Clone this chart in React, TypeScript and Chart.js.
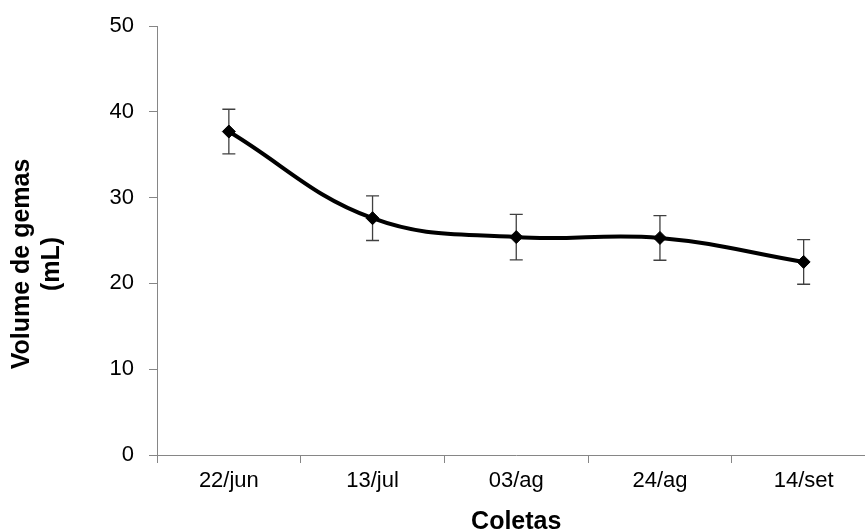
import { useEffect, useRef } from "react";
import { Chart, registerables } from "chart.js";

Chart.register(...registerables);

// Sampling dates and mean bud volume (mL) with its error margin
const categories = ["22/jun", "13/jul", "03/ag", "24/ag", "14/set"];
const volumes = [37.7, 27.6, 25.4, 25.3, 22.5];
const errors = [2.6, 2.6, 2.65, 2.6, 2.6];
const yTicks = [0, 10, 20, 30, 40, 50];
const yTitleLines = ["Volume de gemas", "(mL)"];
const xTitle = "Coletas";

const FONT = "'Liberation Sans', Arial, sans-serif";
const AXIS_GREY = "#868686";

// Vertical error bars with caps, drawn under the line and markers
const errorBarPlugin = {
  id: "errorBars",
  beforeDatasetsDraw(chart: any) {
    const { ctx, scales } = chart;
    const x = scales.x;
    const y = scales.y;
    ctx.save();
    ctx.strokeStyle = "#404040";
    ctx.lineWidth = 1.3;
    volumes.forEach((v, i) => {
      const px = x.getPixelForValue(i);
      const top = y.getPixelForValue(v + errors[i]);
      const bot = y.getPixelForValue(v - errors[i]);
      ctx.beginPath();
      ctx.moveTo(px, top);
      ctx.lineTo(px, bot);
      ctx.moveTo(px - 6.5, top);
      ctx.lineTo(px + 6.5, top);
      ctx.moveTo(px - 6.5, bot);
      ctx.lineTo(px + 6.5, bot);
      ctx.stroke();
    });
    ctx.restore();
  },
};

// Axis titles: two-line rotated title on the left, "Coletas" below the axis
const axisTitlesPlugin = {
  id: "axisTitles",
  afterDraw(chart: any) {
    const { ctx, chartArea } = chart;
    ctx.save();
    ctx.fillStyle = "#000";
    ctx.font = `bold 25px ${FONT}`;
    ctx.textAlign = "center";
    ctx.textBaseline = "alphabetic";
    // left title
    ctx.save();
    ctx.translate(0, 264);
    ctx.rotate(-Math.PI / 2);
    ctx.fillText(yTitleLines[0], 0, 28.5);
    ctx.fillText(yTitleLines[1], 0, 58.5);
    ctx.restore();
    // bottom title
    const cx = (chartArea.left + chartArea.right) / 2;
    ctx.fillText(xTitle, cx, 529);
    ctx.restore();
  },
};

export default function App() {
  const ref = useRef<HTMLCanvasElement | null>(null);

  useEffect(() => {
    if (!ref.current) return;
    const chart = new Chart(ref.current, {
      type: "line",
      data: {
        labels: categories,
        datasets: [
          {
            data: volumes,
            borderColor: "#000",
            borderWidth: 4,
            tension: 0.4,
            pointStyle: "rectRot",
            pointRadius: 6.5,
            pointBackgroundColor: "#000",
            pointBorderColor: "#000",
            pointBorderWidth: 1,
            clip: false,
          },
        ],
      },
      options: {
        animation: false,
        responsive: false,
        devicePixelRatio: 1,
        layout: { padding: { top: 24.5, left: 0, right: 0, bottom: 0 } },
        plugins: {
          legend: { display: false },
          tooltip: { enabled: false },
        },
        scales: {
          x: {
            type: "category",
            offset: true,
            grid: {
              display: true,
              drawOnChartArea: false,
              drawTicks: true,
              tickLength: 8,
              color: AXIS_GREY,
              offset: true,
            },
            border: { display: true, color: AXIS_GREY, width: 1 },
            ticks: {
              color: "#000",
              font: { family: FONT, size: 22 },
              padding: 5,
              maxRotation: 0,
              autoSkip: false,
            },
            afterFit(scale: any) {
              scale.height = 77;
            },
          },
          y: {
            min: yTicks[0],
            max: yTicks[yTicks.length - 1],
            grid: {
              display: true,
              drawOnChartArea: false,
              drawTicks: true,
              tickLength: 8,
              color: AXIS_GREY,
            },
            border: { display: true, color: AXIS_GREY, width: 1 },
            ticks: {
              color: "#000",
              font: { family: FONT, size: 22, lineHeight: 1 },
              padding: 15,
              stepSize: 10,
            },
            afterBuildTicks(scale: any) {
              scale.ticks = yTicks.map((v) => ({ value: v }));
            },
            afterFit(scale: any) {
              scale.width = 157;
            },
          },
        },
      },
      plugins: [errorBarPlugin, axisTitlesPlugin],
    });
    return () => chart.destroy();
  }, []);

  return (
    <div
      style={{
        position: "fixed",
        left: 0,
        top: 0,
        width: 865,
        height: 532,
        overflow: "hidden",
        background: "#fff",
      }}
    >
      <canvas
        ref={ref}
        width={883}
        height={532}
        style={{ display: "block", width: 883, height: 532 }}
      />
    </div>
  );
}
